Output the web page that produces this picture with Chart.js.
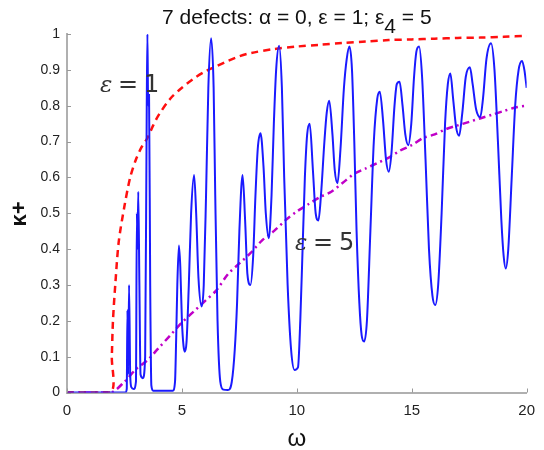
<!DOCTYPE html>
<html>
<head>
<meta charset="utf-8">
<script src="https://cdn.jsdelivr.net/npm/chart.js@4/dist/chart.umd.min.js"></script>
<style>
  html, body { margin: 0; padding: 0; background: #fff; }
  #wrap { width: 544px; height: 450px; }
</style>
</head>
<body>
<div id="wrap"><canvas id="c" width="544" height="450"></canvas></div>
<script>
// x axis ticks / limits
const xTicks = [0, 5, 10, 15, 20];
const yTicks = [0, 0.1, 0.2, 0.3, 0.4, 0.5, 0.6, 0.7, 0.8, 0.9, 1];

// blue curve: kappa+ for 7 defects
const blueW = [0, 2.55, 2.6, 2.63, 2.66, 2.7, 2.75, 2.8, 2.9, 3.0, 3.04, 3.07, 3.1, 3.15, 3.2, 3.3, 3.4, 3.47, 3.5, 3.53, 3.57, 3.62, 3.67, 3.75,
  4.6, 4.7, 4.75, 4.8, 4.87, 4.93, 5.0, 5.07, 5.13, 5.2, 5.3, 5.4, 5.53, 5.62, 5.72, 5.86, 5.95, 6.05, 6.15, 6.27, 6.38, 6.45, 6.55, 6.67, 6.8,
  7.0, 7.17, 7.3, 7.4, 7.5, 7.64, 7.75, 7.85, 7.98, 8.1, 8.2, 8.3, 8.42, 8.55, 8.65, 8.78, 8.9, 9.0, 9.1, 9.23, 9.35, 9.45, 9.6, 9.75, 9.9,
  10.05, 10.15, 10.25, 10.35, 10.45, 10.56, 10.7, 10.82, 10.94, 11.05, 11.2, 11.3, 11.41, 11.55, 11.65, 11.77, 11.9, 12.05, 12.17, 12.29,
  12.4, 12.5, 12.6, 12.72, 12.82, 12.93, 13.05, 13.2, 13.35, 13.5, 13.61, 13.75, 13.88, 14.0, 14.12, 14.25, 14.35, 14.47, 14.6, 14.72,
  14.85, 14.98, 15.1, 15.2, 15.32, 15.45, 15.6, 15.75, 15.9, 16.02, 16.15, 16.3, 16.45, 16.57, 16.68, 16.8, 16.93, 17.06, 17.2, 17.35,
  17.53, 17.65, 17.8, 17.98, 18.1, 18.25, 18.45, 18.6, 18.75, 18.9, 19.0, 19.09, 19.2, 19.35, 19.5, 19.65, 19.8, 19.9, 20];
const blueK = [0, 0, 0.01, 0.23, 0.05, 0.30, 0.05, 0.015, 0.01, 0.03, 0.5, 0.4, 0.56, 0.3, 0.05, 0.04, 0.1, 0.8, 1.0, 0.8, 0.83, 0.3, 0.02, 0.005,
  0.005, 0.03, 0.15, 0.3, 0.41, 0.35, 0.2, 0.13, 0.114, 0.14, 0.3, 0.5, 0.607, 0.5, 0.32, 0.24, 0.3, 0.55, 0.85, 0.988, 0.85, 0.55, 0.2, 0.03, 0.008,
  0.007, 0.03, 0.12, 0.25, 0.45, 0.607, 0.48, 0.33, 0.30, 0.38, 0.55, 0.68, 0.723, 0.63, 0.5, 0.43, 0.55, 0.75, 0.9, 0.967, 0.85, 0.6, 0.3, 0.12, 0.063,
  0.07, 0.2, 0.4, 0.6, 0.72, 0.75, 0.62, 0.5, 0.48, 0.55, 0.7, 0.78, 0.814, 0.72, 0.62, 0.584, 0.68, 0.85, 0.93, 0.965,
  0.9, 0.7, 0.45, 0.25, 0.16, 0.142, 0.2, 0.45, 0.7, 0.82, 0.839, 0.76, 0.65, 0.616, 0.67, 0.8, 0.86, 0.867, 0.8, 0.72,
  0.69, 0.75, 0.88, 0.95, 0.965, 0.88, 0.65, 0.4, 0.27, 0.244, 0.3, 0.5, 0.75, 0.86, 0.89, 0.82, 0.74, 0.716, 0.78, 0.88,
  0.907, 0.86, 0.79, 0.768, 0.82, 0.93, 0.974, 0.9, 0.7, 0.48, 0.38, 0.346, 0.4, 0.6, 0.8, 0.9, 0.925, 0.9, 0.85];

// red dashed curve: eps = 1
const redW = [0, 1.9, 1.95, 2.0, 2.1, 2.25, 2.5, 2.75, 3.0, 3.25, 3.5, 3.75, 4.0, 4.5, 5, 5.5, 6, 6.5, 7, 7.5, 8, 9, 10, 11, 12, 13, 14, 15, 16, 17, 18, 19, 20];
const redK = [0, 0, 0.1, 0.2, 0.3, 0.42, 0.52, 0.6, 0.65, 0.685, 0.71, 0.745, 0.775, 0.82, 0.85, 0.875, 0.895, 0.91, 0.925, 0.938, 0.947, 0.958, 0.965, 0.97, 0.975, 0.979, 0.983, 0.985, 0.987, 0.989, 0.99, 0.992, 0.995];

// magenta dash-dot curve: eps = 5
const magW = [0, 1.9, 2.5, 3, 3.5, 4, 4.5, 5, 5.5, 6, 6.5, 7, 7.5, 8, 8.5, 9, 9.5, 10, 10.5, 11, 11.5, 12, 12.5, 13, 13.5, 14, 14.5, 15, 15.5, 16, 16.5, 17, 17.5, 18, 18.5, 19, 19.5, 20];
const magK = [0, 0, 0.03, 0.065, 0.09, 0.125, 0.16, 0.195, 0.225, 0.255, 0.285, 0.33, 0.36, 0.39, 0.425, 0.45, 0.48, 0.505, 0.525, 0.545, 0.56, 0.585, 0.61, 0.625, 0.64, 0.655, 0.675, 0.69, 0.71, 0.72, 0.735, 0.745, 0.755, 0.765, 0.775, 0.785, 0.795, 0.8];

const pts = (xs, ys) => xs.map((x, i) => ({ x: x, y: ys[i] }));

// title with subscript, inline labels, inward tick marks
const extras = {
  id: 'extras',
  afterDraw(chart) {
    const ctx = chart.ctx;
    const xs = chart.scales.x, ys = chart.scales.y;
    const a = chart.chartArea;
    ctx.save();
    // inward ticks
    ctx.strokeStyle = '#999';
    ctx.lineWidth = 1;
    xTicks.forEach(t => {
      const px = Math.round(xs.getPixelForValue(t)) + 0.5;
      ctx.beginPath(); ctx.moveTo(px, a.bottom); ctx.lineTo(px, a.bottom - 4); ctx.stroke();
    });
    yTicks.forEach(t => {
      const py = Math.round(ys.getPixelForValue(t)) + 0.5;
      ctx.beginPath(); ctx.moveTo(a.left, py); ctx.lineTo(a.left + 4, py); ctx.stroke();
    });

    // title
    ctx.fillStyle = '#111';
    ctx.textBaseline = 'alphabetic';
    ctx.textAlign = 'left';
    ctx.font = '21px "Liberation Sans", Arial, sans-serif';
    const p1 = '7 defects: α = 0, ε = 1; ε', p2 = '4', p3 = ' = 5';
    const w = ctx.measureText(p1).width + ctx.measureText(p2).width + ctx.measureText(p3).width;
    let x = (a.left + a.right) / 2 - w / 2;
    ctx.fillText(p1, x, 24); x += ctx.measureText(p1).width;
    ctx.fillText(p2, x, 33); x += ctx.measureText(p2).width;
    ctx.fillText(p3, x, 24);

    // curve labels
    const label = (num, lx, ly) => {
      ctx.fillStyle = '#333';
      ctx.font = 'italic 23px "DejaVu Serif", serif';
      ctx.fillText('ε', lx, ly);
      ctx.font = '24px "DejaVu Sans", sans-serif';
      ctx.fillText('=', lx + 18, ly);
      ctx.fillText(num, lx + 44, ly);
    };
    label('1', 100, 92);
    label('5', 295, 250);

    // axis titles
    ctx.fillStyle = '#111';
    ctx.textAlign = 'center';
    ctx.font = '24px "Liberation Sans", Arial, sans-serif';
    ctx.fillText('ω', (a.left + a.right) / 2, 446);
    ctx.translate(26, 214);
    ctx.rotate(-Math.PI / 2);
    ctx.font = 'bold 22px "Liberation Sans", Arial, sans-serif';
    ctx.fillText('κ+', 0, 0);
    ctx.restore();
  }
};

new Chart(document.getElementById('c'), {
  type: 'line',
  data: {
    datasets: [
      { data: pts(blueW, blueK), borderColor: '#1a1aff', borderWidth: 2, pointRadius: 0, cubicInterpolationMode: 'monotone' },
      { data: pts(redW, redK), borderColor: '#ff1010', borderWidth: 2.5, borderDash: [7, 5], pointRadius: 0, tension: 0.3 },
      { data: pts(magW, magK), borderColor: '#c000c8', borderWidth: 2.5, borderDash: [7, 4, 2, 4], pointRadius: 0, tension: 0.3 }
    ]
  },
  options: {
    responsive: false,
    animation: false,
    layout: { padding: { top: 34, right: 8, left: 0, bottom: 0 } },
    plugins: { legend: { display: false }, tooltip: { enabled: false }, title: { display: false } },
    scales: {
      x: {
        type: 'linear', min: 0, max: 20,
        afterFit: s => { s.height = 57.5; },
        afterBuildTicks: s => { s.ticks = xTicks.map(v => ({ value: v })); },
        grid: { display: true, drawOnChartArea: false, drawTicks: false },
        border: { color: '#b0b0b0', width: 2 },
        ticks: { color: '#222', padding: 9, font: { size: 15, family: '"Liberation Sans", Arial, sans-serif' } }
      },
      y: {
        min: 0, max: 1,
        afterFit: s => { s.width = 67; },
        afterBuildTicks: s => { s.ticks = yTicks.map(v => ({ value: v })); },
        grid: { display: true, drawOnChartArea: false, drawTicks: false },
        border: { color: '#b0b0b0', width: 2 },
        ticks: { color: '#222', padding: 7, font: { size: 14, family: '"Liberation Sans", Arial, sans-serif' },
          callback: v => String(Math.round(v * 10) / 10) }
      }
    }
  },
  plugins: [extras]
});
</script>
</body>
</html>
